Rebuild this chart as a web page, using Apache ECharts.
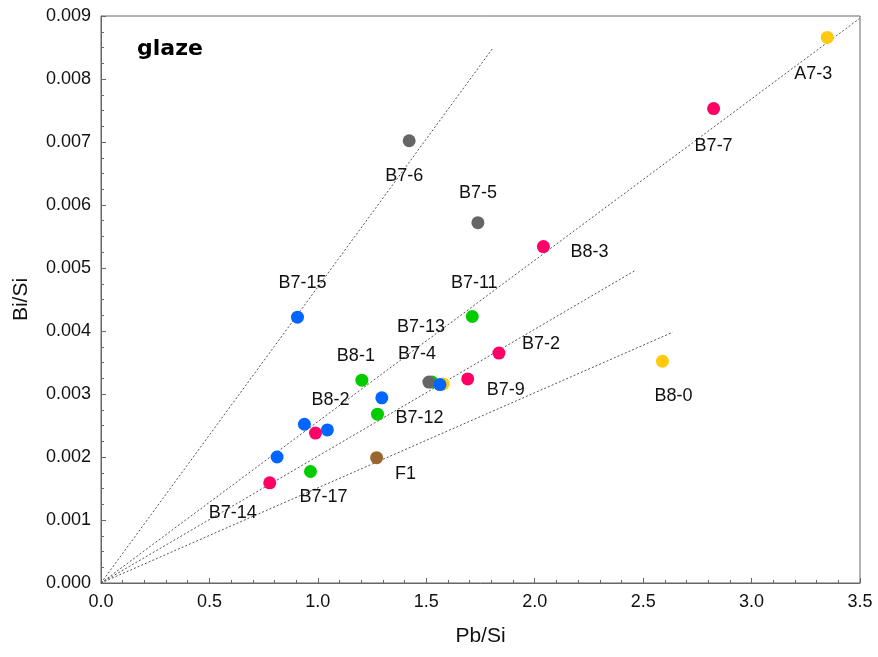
<!DOCTYPE html>
<html>
<head>
<meta charset="utf-8">
<script src="https://cdn.jsdelivr.net/npm/echarts@6/dist/echarts.min.js"></script>
<style>
  html, body { margin: 0; padding: 0; background: #fff; }
  #chart { width: 878px; height: 657px; }
</style>
</head>
<body>
<div id="chart"></div>
<script>
// Samples grouped by colour: [Pb/Si, Bi/Si, sample name]
const yellowPts = [[3.349, 0.00866, 'A7-3'], [2.589, 0.00352, 'B8-0'], [1.578, 0.00316, '']];
const greenPts = [[1.712, 0.00423, 'B7-11'], [1.526, 0.00319, 'B7-13'], [1.203, 0.00322, 'B8-1'],
                  [1.275, 0.00268, 'B7-12'], [0.966, 0.00177, 'B7-17']];
const grayPts = [[1.421, 0.00702, 'B7-6'], [1.738, 0.00572, 'B7-5'], [1.512, 0.00319, 'B7-4']];
const pinkPts = [[2.825, 0.00753, 'B7-7'], [2.040, 0.00534, 'B8-3'], [1.835, 0.00365, 'B7-2'],
                 [1.691, 0.00324, 'B7-9'], [0.989, 0.00238, ''], [0.778, 0.00159, 'B7-14']];
const bluePts = [[0.906, 0.00422, 'B7-15'], [1.295, 0.00294, ''], [1.563, 0.00315, ''],
                 [0.938, 0.00252, ''], [1.044, 0.00243, 'B8-2'], [0.812, 0.00200, '']];
const brownPts = [[1.271, 0.00199, 'F1']];

// Ratio guide lines, drawn from the origin to these end points
const refLineEnds = [[1.809, 0.00850], [3.498, 0.00896], [2.463, 0.00496], [2.636, 0.00398]];

// Axis settings
const xMin = 0, xMax = 3.5, xStep = 0.5;
const yMin = 0, yMax = 0.009, yStep = 0.001;

// Pixel offset of each sample label from its marker
const labelOffset = {
  'A7-3': [-14, 37], 'B7-7': [0, 37], 'B7-6': [-5, 35], 'B7-5': [0, -30],
  'B8-3': [46, 5], 'B7-11': [2, -33], 'B7-13': [-11, -55], 'B8-1': [-6, -24],
  'B7-4': [-12, -28], 'B7-2': [42, -9], 'B8-2': [3, -30], 'B7-12': [42, 4],
  'B7-9': [38, 11], 'B8-0': [11, 35], 'B7-14': [-37, 30], 'B7-17': [13, 26],
  'F1': [29, 16], 'B7-15': [5, -34]
};

const FONT = "'Liberation Sans', Arial, sans-serif";

function pointSeries(pts, color) {
  return {
    type: 'scatter',
    symbol: 'circle',
    symbolSize: 13,
    z: 3,
    itemStyle: { color: color, opacity: 1 },
    data: pts.map(p => {
      const item = { value: [p[0], p[1]], name: p[2] };
      if (p[2]) {
        item.label = {
          show: true,
          position: 'inside',
          offset: labelOffset[p[2]] || [0, 0],
          formatter: p[2],
          color: '#111',
          fontSize: 18,
          fontFamily: FONT
        };
      }
      return item;
    })
  };
}

const lineSeries = refLineEnds.map(e => ({
  type: 'line',
  symbol: 'none',
  z: 1,
  silent: true,
  lineStyle: { color: '#555', width: 1, type: [2, 2] },
  data: [[0, 0], e]
}));

const chart = echarts.init(document.getElementById('chart'), null, { renderer: 'canvas' });
chart.setOption({
  animation: false,
  backgroundColor: '#fff',
  title: {
    text: 'glaze',
    left: 132,
    top: 33,
    textStyle: { fontFamily: "'Comic Sans MS', 'DejaVu Sans', sans-serif", fontWeight: 'bold', fontSize: 22, color: '#000' }
  },
  grid: {
    left: 101, top: 16, width: 759, height: 567,
    show: true, borderColor: '#666', borderWidth: 1, backgroundColor: 'transparent'
  },
  xAxis: {
    type: 'value',
    min: xMin, max: xMax, interval: xStep,
    name: 'Pb/Si', nameLocation: 'middle', nameGap: 43,
    nameTextStyle: { fontSize: 21, fontFamily: FONT, color: '#111' },
    axisLine: { show: true, lineStyle: { color: '#666', width: 1 } },
    axisTick: { show: true, inside: true, length: 5, lineStyle: { color: '#666' } },
    minorTick: { show: true, splitNumber: 5, length: 3, lineStyle: { color: '#666' } },
    splitLine: { show: false },
    axisLabel: { fontSize: 18, fontFamily: FONT, color: '#111', margin: 10,
                 formatter: v => v.toFixed(1) }
  },
  yAxis: {
    type: 'value',
    min: yMin, max: yMax, interval: yStep,
    name: 'Bi/Si', nameLocation: 'middle', nameGap: 69,
    nameTextStyle: { fontSize: 21, fontFamily: FONT, color: '#111' },
    axisLine: { show: true, lineStyle: { color: '#666', width: 1 } },
    axisTick: { show: true, inside: true, length: 5, lineStyle: { color: '#666' } },
    minorTick: { show: true, splitNumber: 4, length: 3, lineStyle: { color: '#666' } },
    splitLine: { show: false },
    axisLabel: { fontSize: 18, fontFamily: FONT, color: '#111', margin: 10,
                 formatter: v => v.toFixed(3) }
  },
  series: [
    ...lineSeries,
    pointSeries(yellowPts, '#FFC90E'),
    pointSeries(greenPts, '#00CC00'),
    pointSeries(grayPts, '#666666'),
    pointSeries(pinkPts, '#FF0066'),
    pointSeries(bluePts, '#0066FF'),
    pointSeries(brownPts, '#9B6530')
  ]
});
</script>
</body>
</html>
